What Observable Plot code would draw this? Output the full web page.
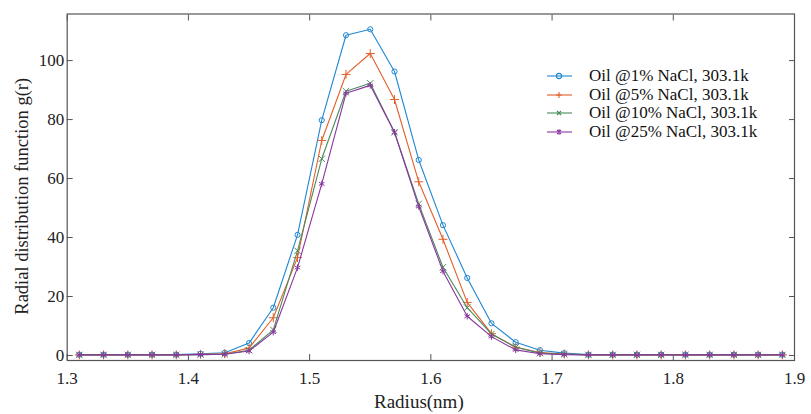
<!DOCTYPE html>
<html>
<head>
<meta charset="utf-8">
<script src="https://cdn.jsdelivr.net/npm/d3@7"></script>
<script src="https://cdn.jsdelivr.net/npm/@observablehq/plot@0.6"></script>
<style>
  html, body { margin: 0; padding: 0; background: #fff; }
  #wrap { position: relative; width: 811px; height: 414px; font-family: "Liberation Serif", "Times New Roman", serif; }
  #legend { position: absolute; left: 546px; top: 67px; font-size: 17px; color: #111; }
  .row { display: flex; align-items: center; height: 18.5px; white-space: nowrap; }
  .row svg { margin-right: 16px; }
</style>
</head>
<body>
<div id="wrap"><div id="chart"></div><div id="legend"></div></div>
<script>
const radius = [1.31,1.33,1.35,1.37,1.39,1.41,1.43,1.45,1.47,1.49,1.51,1.53,1.55,1.57,1.59,1.61,1.63,1.65,1.67,1.69,1.71,1.73,1.75,1.77,1.79,1.81,1.83,1.85,1.87,1.89];
const g1  = [0.3,0.3,0.3,0.3,0.3,0.6,0.9,4.2,16.2,40.9,79.8,108.6,110.6,96.3,66.3,44.2,26.3,10.9,4.5,1.8,0.8,0.3,0.3,0.3,0.3,0.3,0.3,0.3,0.3,0.3];
const g5  = [0.2,0.2,0.2,0.2,0.2,0.4,0.6,2.5,12.8,33.2,72.9,95.3,102.4,86.8,58.9,39.4,18.0,7.4,2.8,1.0,0.5,0.2,0.2,0.2,0.2,0.2,0.2,0.2,0.2,0.2];
const g10 = [0.2,0.2,0.2,0.2,0.2,0.3,0.4,1.8,8.7,35.5,66.7,89.6,92.3,75.7,51.4,29.9,16.2,7.3,2.8,0.8,0.4,0.2,0.2,0.2,0.2,0.2,0.2,0.2,0.2,0.2];
const g25 = [0.2,0.2,0.2,0.2,0.2,0.3,0.4,1.5,7.9,29.8,58.2,88.9,91.6,75.7,50.5,28.6,13.3,6.4,1.9,0.6,0.3,0.2,0.2,0.2,0.2,0.2,0.2,0.2,0.2,0.2];
const seriesNames = ["Oil @1% NaCl, 303.1k","Oil @5% NaCl, 303.1k","Oil @10% NaCl, 303.1k","Oil @25% NaCl, 303.1k"];
const seriesColors = ["#1f86d2","#e2602a","#4a8a5c","#8a35a0"];
const seriesSymbols = ["circle","plus","times","asterisk"];
const xTicks = [1.3,1.4,1.5,1.6,1.7,1.8,1.9];
const yTicks = [0,20,40,60,80,100];
const xLabel = "Radius(nm)";
const yLabel = "Radial distribution function g(r)";

const allSeries = [g1,g5,g10,g25];
const marks = [];
allSeries.forEach((vals, i) => {
  const data = radius.map((r, j) => ({r, g: vals[j]}));
  marks.push(Plot.line(data, {x:"r", y:"g", stroke: seriesColors[i], strokeWidth: 1.1}));
  marks.push(Plot.dot(data, {x:"r", y:"g", stroke: seriesColors[i], symbol: seriesSymbols[i], r: i===0 ? 2.6 : 3, strokeWidth: 1, fill: "none"}));
});

const axisColor = "#555";
const chart = Plot.plot({
  width: 811, height: 414,
  marginLeft: 66.7, marginRight: 17, marginTop: 13.5, marginBottom: 54,
  style: {fontFamily: '"Liberation Serif", "Times New Roman", serif', fontSize: "17px", color: "#222", background: "#fff"},
  x: {domain: [1.3, 1.9]},
  y: {domain: [-1.7, 115.8]},
  marks: [
    Plot.axisX(xTicks, {anchor: "bottom", tickSize: 0, tickPadding: 11, tickFormat: d => d3.format(".1f")(d), fontSize: 17, fill: "#222", label: null}),
    Plot.axisX(xTicks, {anchor: "bottom", tickSize: -6, tickFormat: () => "", stroke: axisColor, label: null}),
    Plot.axisX(xTicks, {anchor: "top", tickSize: -6, tickFormat: () => "", stroke: axisColor, label: null}),
    Plot.axisY(yTicks, {anchor: "left", tickSize: 0, tickPadding: 3, fontSize: 17, fill: "#222", label: null}),
    Plot.axisY(yTicks, {anchor: "left", tickSize: -6, tickFormat: () => "", stroke: axisColor, label: null}),
    Plot.axisY(yTicks, {anchor: "right", tickSize: -6, tickFormat: () => "", stroke: axisColor, label: null}),
    ...marks,
    Plot.frame({stroke: axisColor, strokeWidth: 1.2}),
    Plot.text([xLabel], {frameAnchor: "bottom", textAnchor: "middle", dx: -12, dy: 47, fontSize: 19, fill: "#222"}),
    Plot.text([yLabel], {frameAnchor: "left", textAnchor: "middle", dx: -45, dy: 9, rotate: -90, fontSize: 18.5, fill: "#222"})
  ]
});
document.getElementById("chart").appendChild(chart);

// Legend
const legend = document.getElementById("legend");
const symPaths = {
  circle: '<circle cx="13" cy="6" r="2.6" fill="none"/>',
  plus: '<path d="M10,6h6M13,3v6"/>',
  times: '<path d="M11,4l4,4M15,4l-4,4"/>',
  asterisk: '<path d="M11,4l4,4M15,4l-4,4M13,3.2v5.6"/>'
};
seriesNames.forEach((name, i) => {
  const row = document.createElement("div");
  row.className = "row";
  row.innerHTML = `<svg width="27" height="12" viewBox="0 0 27 12" stroke="${seriesColors[i]}" stroke-width="1.1" fill="none"><line x1="1" y1="6" x2="26" y2="6"/>${symPaths[seriesSymbols[i]]}</svg><span>${name}</span>`;
  legend.appendChild(row);
});
</script>
</body>
</html>
